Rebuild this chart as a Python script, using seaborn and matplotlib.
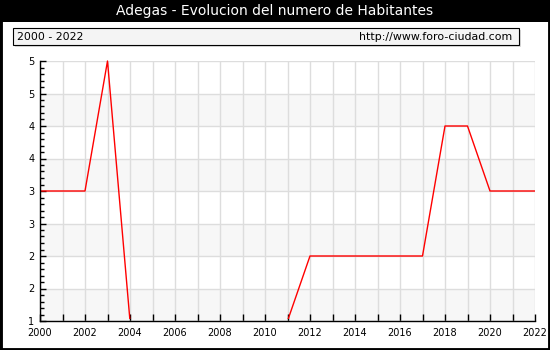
import numpy as np
import pandas as pd
import matplotlib
matplotlib.use("Agg")
import matplotlib.pyplot as plt
import matplotlib.transforms as mtransforms
from matplotlib.patches import Rectangle
from matplotlib.ticker import MultipleLocator, FuncFormatter
import seaborn as sns

years = list(range(2000, 2023))
habitantes = [3, 3, 3, 5, 1, 1, 1, 1, 1, 1, 1, 1, 2, 2, 2, 2, 2, 2, 4, 4, 3, 3, 3]
title = "Adegas - Evolucion del numero de Habitantes"
period_label = "2000 - 2022"
source_label = "http://www.foro-ciudad.com"

sns.set_theme(style="white")
plt.rcParams['font.family'] = ['DejaVu Sans']

W, H = 550, 350
fig = plt.figure(figsize=(W / 100, H / 100), dpi=100)
fig.patch.set_facecolor("white")

def fx(px):
    return px / W

def fy(py):
    return 1 - py / H

ax = fig.add_axes([fx(40), fy(321), fx(535) - fx(40), fy(61) - fy(321)])
ax.set_facecolor("white")

df = pd.DataFrame({"year": years, "hab": habitantes})
sns.lineplot(data=df, x="year", y="hab", ax=ax, color="#ff0000", linewidth=1.0, zorder=2)

ax.set_xlim(years[0], years[-1])
ax.set_ylim(1, 5)

# hide the part of the line lying on the bottom axis (as in the reference)
clip_tr = mtransforms.offset_copy(ax.transAxes, fig=fig, x=0, y=1.6, units="dots")
clip_rect = Rectangle((0, 0), 1, 1.05, transform=clip_tr)
for ln in ax.lines:
    ln.set_clip_path(clip_rect)

ax.xaxis.set_major_locator(MultipleLocator(2))
ax.xaxis.set_minor_locator(MultipleLocator(1))
ax.yaxis.set_major_locator(MultipleLocator(0.5))
ax.yaxis.set_minor_locator(MultipleLocator(0.1))
ax.yaxis.set_major_formatter(FuncFormatter(lambda v, p: str(int(np.floor(v + 0.5)))))

# alternating bands
yt = np.arange(1, 5, 0.5)
for i, y0 in enumerate(yt):
    if i % 2 == 0:
        ax.axhspan(y0, y0 + 0.5, color="#f7f7f7", zorder=0, lw=0)

ax.grid(True, which="both", axis="x", color="#dddddd", linewidth=1.0, zorder=0.5)
ax.grid(True, which="major", axis="y", color="#dddddd", linewidth=1.0, zorder=0.5)
ax.set_axisbelow(True)

for s in ["top", "right"]:
    ax.spines[s].set_visible(False)
for s in ["left", "bottom"]:
    ax.spines[s].set_color("black")
    ax.spines[s].set_linewidth(1.0)
    ax.spines[s].set_zorder(3)

ax.tick_params(axis="both", which="major", direction="in", length=4, width=1,
               color="black", labelsize=7, labelcolor="black",
               left=True, bottom=True)
ax.tick_params(axis="x", which="major", pad=5, length=5)
ax.tick_params(axis="y", which="major", pad=4)
ax.tick_params(axis="y", which="minor", direction="in", length=3, width=1,
               color="black", left=True)
ax.tick_params(axis="x", which="minor", direction="in", length=5, width=1,
               color="black", bottom=True)
ax.set_xlabel("")
ax.set_ylabel("")

# title bar
fig.patches.append(Rectangle((0, fy(22)), 1, 22 / H, transform=fig.transFigure,
                             facecolor="black", edgecolor="none", zorder=5))
fig.text(0.5, fy(11.5), title, color="white", ha="center", va="center",
         fontsize=10, zorder=6)

# header box with shadow
fig.patches.append(Rectangle((fx(15), fy(47)), fx(521) - fx(15), (47 - 30) / H,
                             transform=fig.transFigure, facecolor="#dcdcdc",
                             edgecolor="none", zorder=4))
fig.patches.append(Rectangle((fx(13), fy(45)), fx(519) - fx(13), (45 - 28) / H,
                             transform=fig.transFigure, facecolor="#f4f4f4",
                             edgecolor="black", linewidth=0.8, zorder=5))
fig.text(fx(17), fy(36.5), period_label, ha="left", va="center", fontsize=7.8, color="black", zorder=6)
fig.text(fx(512), fy(36.5), source_label, ha="right", va="center", fontsize=7.9, color="black", zorder=6)

# outer border
fig.patches.append(Rectangle((0, 0), 1, 1, transform=fig.transFigure,
                             facecolor="none", edgecolor="black", linewidth=3.5, zorder=7))

fig.savefig("out.png", dpi=100)
